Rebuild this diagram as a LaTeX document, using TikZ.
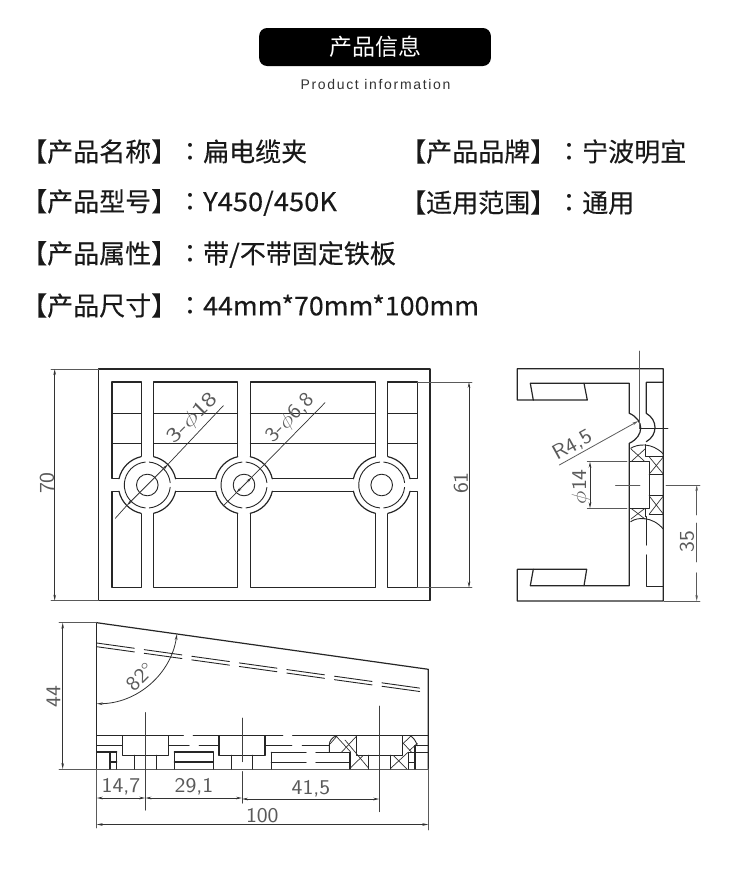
\documentclass[tikz,border=0pt]{standalone}
\usepackage{fontspec}
\newfontfamily\cjkfont{Noto Sans CJK SC}
\newfontfamily\cjkinfo[FakeBold=0.25]{Noto Sans CJK SC}
\newfontfamily\cjkcolon{Noto Sans CJK TC}
\newfontfamily\subfont[LetterSpace=12]{Liberation Sans}
\usetikzlibrary{arrows.meta, positioning}
\definecolor{dimgray}{HTML}{5A5A5A}
\tikzset{
  part/.style={line width=1.2pt, black!85},
  thinpart/.style={line width=0.9pt, black!85},
  hatchline/.style={line width=0.7pt, black!80},
  dimline/.style={line width=0.8pt, dimgray},
  centerline/.style={line width=1pt, black!75},
  dimarrow/.style={line width=0.8pt, black!80, {Stealth[length=6pt,width=2.6pt]}-{Stealth[length=6pt,width=2.6pt]}},
  dimtext/.style={text=dimgray, inner sep=0pt, font=\sffamily\fontsize{21}{21}\selectfont},
  infotext/.style={anchor=west, inner sep=0pt, text=black!90, font=\cjkinfo\fontsize{26}{26}\selectfont}
}
\newcommand{\wide}[1]{\scalebox{1.1}[1]{#1}}
\newcommand{\wider}[1]{\scalebox{1.3}[1]{#1}}
\newcommand{\latin}[1]{\scalebox{1.05}[1]{#1}}
\newcommand{\infocolon}{{\cjkcolon ：}}
\begin{document}
\begin{tikzpicture}[line cap=round,line join=round,x=1pt,y=-1pt]
\useasboundingbox (0,0) rectangle (750,881);

% Heading
\node[fill=black, rounded corners=8pt, minimum width=231.7pt, minimum height=38pt, inner sep=0pt, text=white, font=\cjkfont\fontsize{23}{23}\selectfont] (headbar) at (375,47) {产品信息};
\node[inner sep=0pt, text=black!80, font=\subfont\fontsize{14}{14}\selectfont] (headsub) at (375.5,84) {Product information};

% Info lines
\node[infotext] (name) at (21,151.5) {【产品名称】\infocolon 扁电缆夹};
\node[infotext] (brand) at (400,151.5) {【产品品牌】\infocolon 宁波明宜};
\node[infotext] (model) at (21,202.5) {【产品型号】\infocolon \latin{Y450/450K}};
\node[infotext] (scope) at (400,202.5) {【适用范围】\infocolon 通用};
\node[infotext] (attr) at (21,254.5) {【产品属性】\infocolon 带\latin{/}不带固定铁板};
\node[infotext] (size) at (21,305.5) {【产品尺寸】\infocolon \scalebox{1.03}[1]{44mm*70mm*100mm}};

% Front view
\draw[line width=1.5pt, black!85] (98.7,369) rectangle (430,600.7);
\foreach \xa/\xb in {112/141.3, 153.7/237.7, 250.3/375.7, 387.7/417.3} {
  \draw[part] (\xa,382) rectangle (\xb,478.3);
  \draw[part] (\xa,491.3) rectangle (\xb,587.7);
  \draw[thinpart] (\xa,413.3) -- (\xb,413.3);
  \draw[thinpart] (\xa,443.3) -- (\xb,443.3);
}
\foreach \cx/\hole in {147.3/a, 244/b, 381.7/c} {
  \coordinate (hole\hole) at (\cx,485);
  \fill[white] (hole\hole) circle[radius=29];
  \draw[thinpart] (hole\hole) circle[radius=10.8];
  % outer ring
  \foreach \st/\en in {-77.5/-12.5, 12.5/77.5, 102.5/167.5, 192.5/257.5} {
    \draw[part] ([shift={(\st:29)}]hole\hole) arc[start angle=\st, end angle=\en, radius=29];
  }
  % inner ring
  \foreach \st/\en in {-85/-6, 6/85, 95/265} {
    \draw[thinpart] ([shift={(\st:23)}]hole\hole) arc[start angle=\st, end angle=\en, radius=23];
  }
}
\draw[hatchline] (115.3,518.3) -- (126.8,505.5);
\draw[dimarrow] (126.8,505.5) -- (168,464.3);
\draw[hatchline] (168,464.3) -- (223.3,405.7);
\draw[hatchline] (224,505) -- (236.2,492.8);
\draw[dimarrow] (236.2,492.8) -- (251.8,477.2);
\draw[hatchline] (251.8,477.2) -- (325,402.7);
\node[dimtext, rotate=45] (frontbig) at (192.5,418.5) {\wider{3-$\phi$18}};
\node[dimtext, rotate=45] (frontsmall) at (290.5,418.5) {\wide{3-$\phi$6,8}};

\foreach \yy in {369, 600.7} \draw[dimline] (51,\yy) -- (98.7,\yy);
\draw[dimarrow] (54.7,369) -- (54.7,600.7);
\node[dimtext, rotate=90] (dimseventy) at (47,483) {\wide{70}};
\foreach \yy in {382, 587.7} \draw[dimline] (417.3,\yy) -- (472,\yy);
\draw[dimarrow] (469,382) -- (469,587.7);
\node[dimtext, rotate=90] (dimsixtyone) at (461,483) {\wide{61}};

% Side view
\draw[part] (517.3,368.7) -- (663.3,368.7) -- (663.3,601) -- (517.3,601) -- (517.3,569.3) -- (533.3,569.3) -- (530.3,585.7) -- (629.3,585.7) -- (629.3,443.3)
  .. controls (644.5,436) and (644.5,420) .. (629.3,413.3) -- (629.3,383.3) -- (530.3,383.3) -- (533.3,400) -- (517.3,400) -- cycle;
\draw[part] (533.3,400) -- (587.3,400) -- (584,383.3);
\draw[part] (533.3,569.3) -- (586.7,569.3) -- (584,585.7);
\draw[part] (663.3,382.3) -- (646.3,382.3) -- (646.3,413.3) .. controls (657.9,420) and (657.9,435) .. (646.3,441.7);
\draw[part] (646.3,516.7) -- (646.3,545);
\draw[part] (646.3,555) -- (646.3,586.7) -- (663.3,586.7);
\draw[part] (629.3,461.7) rectangle (649.3,508.3);
\draw[part] (649.3,474.3) -- (663.3,474.3);
\draw[part] (649.3,495.7) -- (663.3,495.7);
\draw[thinpart] (630.7,448.3) .. controls (637,444) and (652,442) .. (663.3,454);
\draw[thinpart] (630.7,521.7) .. controls (637,517) and (652,516) .. (663.3,529);
\draw[thinpart] (645,444.5) -- (645,456.7) -- (663.3,456.7);
\draw[thinpart] (645,508.3) -- (645,516.7);
\draw[thinpart] (649.3,514) -- (663.3,514);
\foreach \xa/\ya/\xb/\yb in {
  631/449/645/461.7, 631/461.7/645/449,
  649.3/474/663.3/457, 649.3/457/663.3/474,
  649.3/496/663.3/514, 649.3/514/663.3/496,
  631/508.3/645/519, 631/519/645/508.3
} {
  \draw[hatchline] (\xa,\ya) -- (\xb,\yb);
}
\draw[dimline] (639.7,351) -- (639.7,428.3);
\draw[thinpart] (639.7,428.3) -- (668,428.3);
\draw[dimline] (615.5,485) -- (640,485);
\draw[dimline] (666,485) -- (700,485);
\draw[dimline] (664,601) -- (700,601);
\draw[dimline] (587.3,461.7) -- (627,461.7);
\draw[dimline] (587.3,508.3) -- (627,508.3);
\draw[dimarrow] (590,461.7) -- (590,508.3);
\draw[dimline, {Stealth[length=6pt,width=2.6pt]}-] (638.3,421) -- (559.3,465);
\draw[dimline, {Stealth[length=6pt,width=2.6pt]}-] (696.7,485) -- (696.7,515);
\draw[dimline] (696.7,523) -- (696.7,562);
\draw[dimline, -{Stealth[length=6pt,width=2.6pt]}] (696.7,572.7) -- (696.7,601);
\node[dimtext, rotate=29] (dimradius) at (572.5,445.5) {\wide{R4,5}};
\node[dimtext, rotate=90] (dimbore) at (581,486.7) {\wide{$\phi$14}};
\node[dimtext, rotate=90] (dimthirtyfive) at (687,541.7) {\wide{35}};

% Bottom view
\draw[line width=1.5pt, black!85] (96.7,769) -- (96.7,622.7);
\draw[part] (96.7,622.7) -- (428.3,669.3) -- (428.3,769);
\draw[dimline] (59,622.7) -- (96.7,622.7);
\draw[dimline] (59,769) -- (428.3,769);
\draw[thinpart, dash pattern=on 38pt off 10pt] (96.7,643) -- (428.3,689.3);
\draw[thinpart, dash pattern=on 38pt off 10pt] (96.7,646.7) -- (428.3,692.7);
\coordinate (apex) at (96.7,622.7);
\draw[dimarrow] ([shift={(90:81)}]apex) arc[start angle=90, end angle=8, radius=81];
\node[dimtext, rotate=45] (dimangle) at (140.5,677) {\wide{82°}};

% counterbores
\foreach \xa/\xb/\xc/\xd in {122.3/168.7/134.7/156.3, 219/265/231.3/252.7, 356.7/402.7/368.7/390.7} {
  \draw[part] (\xa,735.7) rectangle (\xb,755.3);
  \draw[part] (\xc,755.3) -- (\xc,769);
  \draw[part] (\xd,755.3) -- (\xd,769);
}
\foreach \xa/\xb/\yy in {
  96.7/122.3/735.7, 168.7/183.3/735.7, 193.3/219/735.7, 265/282.7/735.7, 292.7/356.7/735.7, 402.7/428.3/735.7,
  96.7/122.3/745.7, 168.7/189/745.7, 199.3/219/745.7, 265/291.7/745.7, 302.3/329.3/745.7, 415/428.3/745.7,
  271.3/306/752.3, 316/350/752.3, 271.3/306/762.3, 316/350/762.3,
  174.3/213.3/752, 174.3/213.3/762, 96.7/116.7/752, 110/116.7/762, 408.7/428.3/752.3, 408.7/415/762.3
} {
  \draw[part] (\xa,\yy) -- (\xb,\yy);
}
\foreach \xx/\ya in {174.3/752, 213.3/752, 271.3/752.3, 350/752.3, 110/752, 116.7/752, 408.7/752.3, 415/745.7} {
  \draw[part] (\xx,\ya) -- (\xx,769);
}
\draw[thinpart] (329.3,752.3) -- (329.3,745) .. controls (329.3,741) and (332,737) .. (337,735.7);
\draw[thinpart] (410,735.7) .. controls (413,737) and (416,741) .. (417.3,745.7);
\foreach \xa/\ya/\xb/\yb in {
  330/744/337/736, 336/736/350.7/752, 356.7/736/341.7/752, 345/740/368.7/768.3, 350/768.3/363.3/755.3,
  390.7/768.3/408/752.3, 393.3/755.3/406.7/768.7,
  403.3/743.3/411/736, 403.3/743.3/411.7/752.3, 409.3/750.7/417.3/743.3
} {
  \draw[hatchline] (\xa,\ya) -- (\xb,\yb);
}

% dimensions
\draw[centerline] (145.3,712.7) -- (145.3,810);
\draw[centerline] (242,718) -- (242,761.7);
\draw[centerline] (242,771.7) -- (242,803);
\draw[centerline] (379.3,706) -- (379.3,811.7);
\draw[dimline] (96.7,769) -- (96.7,828);
\draw[dimline] (428.3,769) -- (428.3,830);
\draw[dimarrow] (62.7,622.7) -- (62.7,769);
\draw[dimarrow] (96.7,798) -- (145.3,798);
\draw[dimarrow] (145.3,798) -- (242,798);
\draw[dimarrow] (242,799) -- (379.3,799);
\draw[dimarrow] (96.7,824.5) -- (428.3,824.5);
\node[dimtext, rotate=90] (dimfortyfour) at (53.5,696.3) {\wide{44}};
\foreach \tx/\ty/\lbl/\nm in {121/787/{14,7}/a, 194/787/{29,1}/b, 311/789/{41,5}/c, 262.3/816/100/d} {
  \node[dimtext] (dimlen\nm) at (\tx,\ty) {\wide{\lbl}};
}

\end{tikzpicture}
\end{document}
